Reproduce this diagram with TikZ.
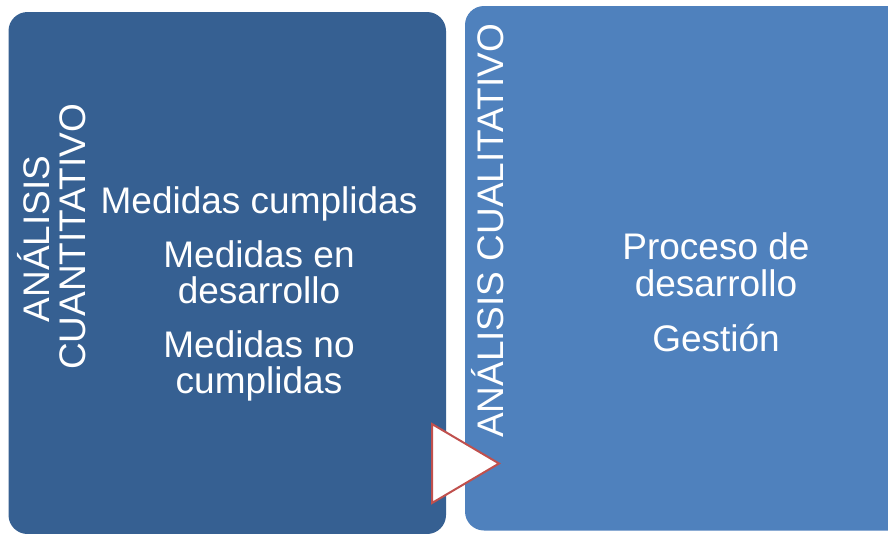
\documentclass[tikz,border=0pt]{standalone}
\usepackage{fontspec}
\setmainfont{Liberation Sans}
\definecolor{darkbox}{RGB}{54,96,146}
\definecolor{lightbox}{RGB}{79,129,189}
\definecolor{trired}{RGB}{192,80,77}
\tikzset{
  boxshape/.style={rounded corners=19pt},
  txt/.style={text=white, font=\fontsize{37}{37}\selectfont, inner sep=0pt, anchor=base},
  vtxt/.style={txt, rotate=90}
}
\begin{document}
\begin{tikzpicture}[x=1pt,y=-1pt]
\useasboundingbox (0,0) rectangle (888,533);
\clip (0,0) rectangle (888,533);
\fill[white] (0,0) rectangle (888,533);
\fill[darkbox, boxshape] (8.5,12) rectangle (446,534);
\fill[lightbox, boxshape] (465,6) rectangle (910,530.5);
% left vertical title
\node[vtxt] (ql1) at (49,239) {ANÁLISIS};
\node[vtxt] (ql2) at (85,237) {CUANTITATIVO};
% left items
\node[txt] (m1) at (259,213) {Medidas cumplidas};
\node[txt] (m2a) at (259,267) {Medidas en};
\node[txt] (m2b) at (259,303) {desarrollo};
\node[txt] (m3a) at (259,357) {Medidas no};
\node[txt] (m3b) at (259,393) {cumplidas};
% right vertical title
\node[vtxt] (qr) at (503,231) {ANÁLISIS CUALITATIVO};
% right items
\node[txt] (p1a) at (716,259) {Proceso de};
\node[txt] (p1b) at (716,296) {desarrollo};
\node[txt] (g1) at (716,351) {Gestión};
% arrow triangle
\draw[trired, fill=white, line width=2pt, line join=miter] (432,424) -- (432,503) -- (499,463.5) -- cycle;
\end{tikzpicture}
\end{document}
